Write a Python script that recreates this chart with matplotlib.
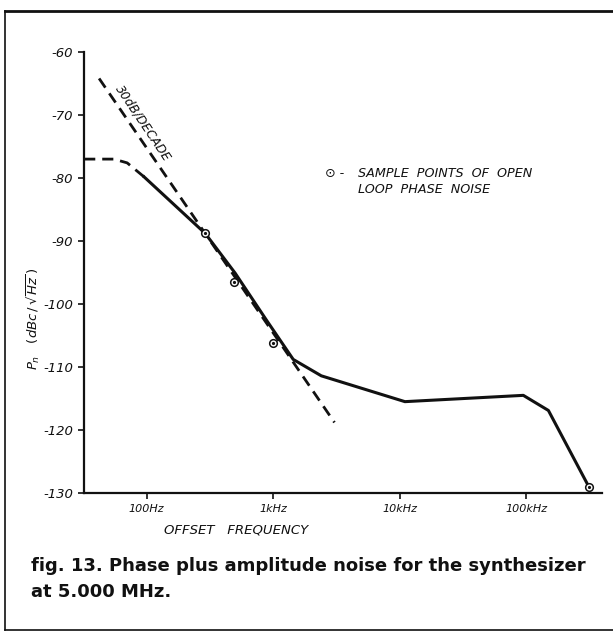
import numpy as np
import matplotlib
matplotlib.use("Agg")
import matplotlib.pyplot as plt
from matplotlib.lines import Line2D

# ---- data ----
# dashed (extrapolated) low-frequency part of the noise curve
low_freq = [32, 55, 70, 85, 95]
low_pn = [-77.0, -77.0, -77.6, -79.0, -79.8]

# solid measured noise curve
curve_freq = [95, 290, 500, 880, 1440, 2400, 11000, 95000, 150000, 313000]
curve_pn = [-79.8, -88.8, -95.1, -102.5, -108.8, -111.4, -115.5, -114.5, -116.9, -129.0]

# 30 dB/decade reference line (end points)
slope_freq = [42, 3050]
slope_pn = [-64.2, -118.8]

# sample points of open loop phase noise
sample_freq = [290, 490, 1000, 313000]
sample_pn = [-88.8, -96.5, -106.2, -129.0]

yticks = [-60, -70, -80, -90, -100, -110, -120, -130]
ytick_labels = ["-60", "-70", "-80", "-90", "-100", "-110", "-120", "-130"]
xticks = [100, 1000, 10000, 100000]
xtick_labels = ["100Hz", "1kHz", "10kHz", "100kHz"]

W, H = 613, 633
fig = plt.figure(figsize=(W / 100, H / 100), dpi=100)
ax = fig.add_axes([84 / W, 1 - 493 / H, (602 - 84) / W, (493 - 52) / H])

ink = "#111111"
ax.set_xscale("log")
ax.set_xlim(31.9, 398000)
ax.set_ylim(-130, -60)

ax.plot(low_freq, low_pn, color=ink, lw=2.0, linestyle=(0, (4, 2.5)))
ax.plot(slope_freq, slope_pn, color=ink, lw=2.0, linestyle=(0, (4, 2.5)))
ax.plot(curve_freq, curve_pn, color=ink, lw=2.2, solid_joinstyle="round")
ax.plot(sample_freq, sample_pn, linestyle="none", marker="o", ms=5.5,
        mfc="white", mec=ink, mew=1.1, clip_on=False, zorder=5)
ax.plot(sample_freq, sample_pn, linestyle="none", marker="o", ms=1.3,
        mfc=ink, mec=ink, clip_on=False, zorder=6)

for s in ["top", "right"]:
    ax.spines[s].set_visible(False)
for s in ["left", "bottom"]:
    ax.spines[s].set_linewidth(1.6)
    ax.spines[s].set_color(ink)

lab_font = dict(family="DejaVu Sans", style="italic", color=ink)
ax.set_yticks(yticks)
ax.set_yticklabels(ytick_labels, **lab_font, fontsize=9.5)
ax.set_xticks(xticks)
ax.set_xticklabels(xtick_labels, **lab_font, fontsize=8)
ax.xaxis.set_minor_locator(matplotlib.ticker.NullLocator())
ax.tick_params(axis="both", direction="out", length=4, width=1.2, color=ink)
ax.tick_params(axis="y", pad=4)
ax.tick_params(axis="x", pad=4)

ax.set_xlabel("OFFSET   FREQUENCY", **lab_font, fontsize=9.5)
ax.xaxis.set_label_coords(0.155, -0.084)
ax.xaxis.label.set_horizontalalignment("left")
ax.xaxis.label.set_verticalalignment("center")
ax.set_ylabel(r"$P_n$   $(d B c\, /\, \sqrt{H z}\,)$", fontsize=9.5, color=ink)
ax.yaxis.set_label_coords(-0.098, 0.395)
ax.yaxis.label.set_verticalalignment("center")

ax.text(93, -71.3, "30dB/DECADE", rotation=-56, rotation_mode="anchor",
        ha="center", va="center", fontsize=9, **lab_font)

ax.text(0.466, 0.724, "\u2299 -", transform=ax.transAxes, fontsize=9.2,
        ha="left", va="center", **lab_font)
ax.text(0.529, 0.724, "SAMPLE  POINTS  OF  OPEN",
        transform=ax.transAxes, fontsize=9.2, ha="left", va="center", **lab_font)
ax.text(0.529, 0.688, "LOOP  PHASE  NOISE",
        transform=ax.transAxes, fontsize=9.2, ha="left", va="center", **lab_font)

fig.text(31 / W, 1 - 557 / H,
         "fig. 13. Phase plus amplitude noise for the synthesizer\nat 5.000 MHz.",
         family="DejaVu Sans", weight="bold", fontsize=12.95, color=ink,
         ha="left", va="top", linespacing=1.55)

# outer frame lines
fig.add_artist(Line2D([5 / W, 1], [1 - 11 / H, 1 - 11 / H], color=ink, lw=2.0))
fig.add_artist(Line2D([5 / W, 5 / W], [1 - 11 / H, 1 - 630 / H], color=ink, lw=1.2))
fig.add_artist(Line2D([5 / W, 1], [1 - 630 / H, 1 - 630 / H], color=ink, lw=1.2))

fig.savefig("out.png", dpi=100, facecolor="white")
